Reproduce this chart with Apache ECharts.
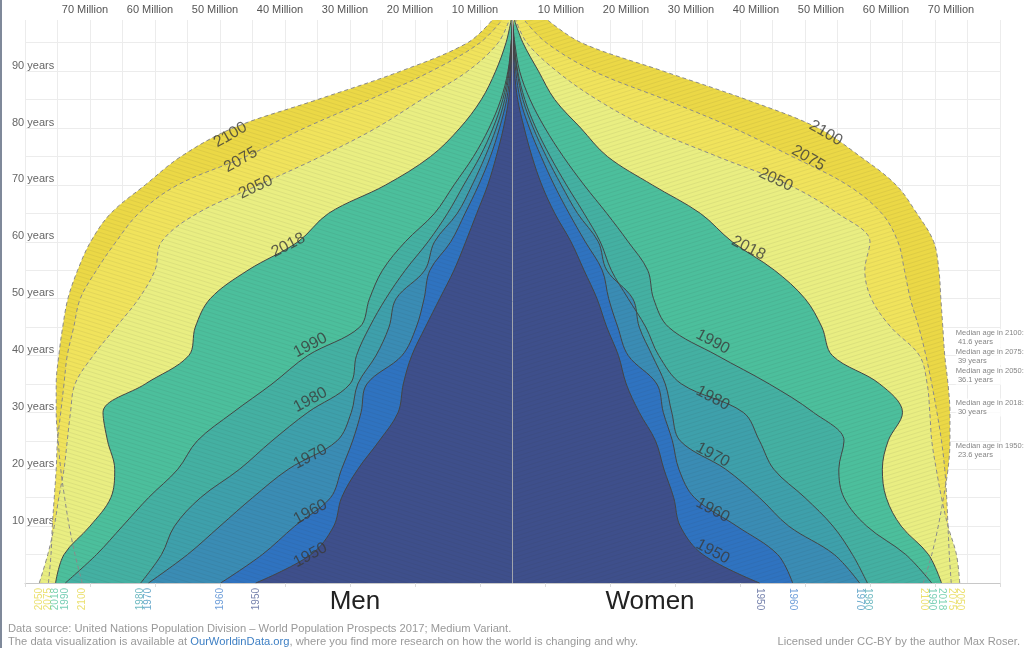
<!DOCTYPE html>
<html>
<head>
<meta charset="utf-8">
<script src="https://cdn.jsdelivr.net/npm/echarts@6/dist/echarts.min.js"></script>
<style>
html, body { margin: 0; padding: 0; background: #fff; }
#chart { width: 1024px; height: 648px; }
</style>
</head>
<body>
<div id="chart"></div>
<script>
// ages (single-year age groups)
var ages = [0, 5, 10, 15, 20, 25, 30, 35, 40, 45, 50, 55, 60, 65, 70, 75, 80, 85, 90, 95, 99];

// population per single year of age, in millions
var men1950 = [39.5, 31, 27.5, 26.3, 23.8, 20.5, 17.6, 16.8, 15.5, 13.4, 11.2, 9, 7.2, 5.5, 3.8, 2.5, 1.4, 0.6, 0.25, 0.1, 0];
var women1950 = [38, 29.3, 25.8, 24.8, 23.3, 22, 19.5, 17.5, 16.3, 14.5, 13, 11, 9, 6.5, 4.5, 3, 1.8, 0.8, 0.3, 0.1, 0];
var men1960 = [44.9, 38.5, 33.5, 28, 26.3, 24.6, 23.3, 22.4, 17, 14.8, 13.6, 12.7, 9.5, 7.3, 5.2, 3.4, 2, 0.9, 0.35, 0.1, 0];
var women1960 = [43.1, 40.8, 34.5, 28, 25.6, 24.6, 23.2, 22.2, 17.8, 16.2, 14.8, 13.8, 11.2, 8.7, 6.4, 4.4, 2.6, 1.2, 0.5, 0.15, 0];
var men1970 = [56, 50, 45, 40, 34.5, 27, 24.8, 23.8, 21, 19, 17.9, 13.5, 12, 8.5, 6.2, 4.2, 2.5, 1.2, 0.5, 0.15, 0];
var women1970 = [53.4, 49.5, 42.5, 38, 32.8, 25.8, 24.5, 23.5, 21.5, 19.5, 18.5, 14.5, 13.2, 10, 7.5, 5.2, 3.2, 1.6, 0.7, 0.2, 0];
var men1980 = [57.2, 54, 52, 48, 42, 37, 31.5, 25, 24, 22, 19.5, 16.5, 13, 10, 7.5, 5, 3, 1.5, 0.6, 0.2, 0];
var women1980 = [54.6, 52.3, 49.3, 45, 40.2, 38, 35.5, 26, 22.5, 20.5, 17.8, 15.2, 13.5, 11, 8.3, 5.8, 3.6, 1.9, 0.8, 0.25, 0];
var men1990 = [68.8, 64, 60, 56, 51.5, 48.5, 43, 37, 31.5, 23.5, 22, 20, 16.5, 12, 9, 6, 3.6, 1.8, 0.7, 0.2, 0];
var women1990 = [64.5, 60.5, 54.5, 51, 50.2, 51, 46.3, 39.5, 31.5, 24, 21.7, 20.8, 17.8, 14.5, 11, 7.8, 5, 2.7, 1.1, 0.35, 0];
var men2018 = [70.3, 69, 65, 61.8, 61.2, 62.3, 63, 56.5, 49.8, 48.8, 46.5, 40.7, 33, 28.3, 19.5, 12.6, 8.1, 4.8, 2.6, 1, 0.2];
var women2018 = [66, 64, 59.8, 57.5, 56.9, 57.8, 60, 56.5, 49.2, 47.6, 45, 40.3, 33.8, 28.9, 21.5, 14.6, 10.5, 6.5, 4, 1.6, 0.3];
var men2050 = [72.8, 71.5, 70.5, 69.8, 69, 68.5, 68, 67.3, 64.5, 61, 57.5, 55, 54, 48.5, 39, 29.5, 21, 14, 6.9, 2.2, 0.5];
var women2050 = [68.8, 68.3, 67, 66, 65.2, 64.5, 64.2, 63.8, 62.6, 58.2, 55.2, 54.2, 55, 50, 42.5, 31.5, 21, 13, 6.8, 2.2, 0.5];
var men2075 = [71.4, 71, 70.8, 70.5, 70.2, 70, 69.5, 69, 68.5, 67.5, 66.5, 64, 61, 57.5, 51.5, 41, 32, 22, 12.5, 5, 1.6];
var women2075 = [67.5, 67.2, 67, 66.8, 66.5, 66, 65.3, 64.5, 63.6, 62.5, 61.2, 60.3, 59.3, 56.8, 51.5, 43, 34, 23.5, 12.5, 5.2, 1.8];
var men2100 = [66.2, 67.3, 68.2, 68.9, 69.5, 69.9, 70.2, 70.2, 69.8, 69.2, 68.4, 66.9, 64.9, 61.8, 56.5, 51, 43, 30, 17.2, 6.9, 3.1];
var women2100 = [63.2, 64.5, 65.5, 66.3, 67, 67.3, 67.3, 67, 66.5, 66.2, 65.9, 65.6, 64.8, 62.2, 59, 53.5, 47, 36, 23.2, 10.6, 5.4];

// outer to inner, that is the drawing order
var years = ['2100', '2075', '2050', '2018', '1990', '1980', '1970', '1960', '1950'];
var projected = ['2050', '2075', '2100'];

var medianYears = ['2100', '2075', '2050', '2018', '1950'];
var medianAges = [41.6, 39, 36.1, 30, 23.6];

var topTickLabels = ['10 Million', '20 Million', '30 Million', '40 Million', '50 Million', '60 Million', '70 Million'];

var menByYear = {
	'1950' : men1950, '1960' : men1960, '1970' : men1970, '1980' : men1980, '1990' : men1990,
	'2018' : men2018, '2050' : men2050, '2075' : men2075, '2100' : men2100
};
var womenByYear = {
	'1950' : women1950, '1960' : women1960, '1970' : women1970, '1980' : women1980, '1990' : women1990,
	'2018' : women2018, '2050' : women2050, '2075' : women2075, '2100' : women2100
};

var fills = {
	'1950' : '#3e4f8b', '1960' : '#2f73c0', '1970' : '#3a8cb4', '1980' : '#3ea0ab', '1990' : '#44b0a2',
	'2018' : '#4cbf9c', '2050' : '#e9ee82', '2075' : '#f0e35c', '2100' : '#ebd846'
};
var tagColors = {
	'1950' : '#56659a', '1960' : '#4a86d0', '1970' : '#4595bf', '1980' : '#4aa8b2', '1990' : '#55c2a2',
	'2018' : '#5cc8a0', '2050' : '#e6d84a', '2075' : '#e6d84a', '2100' : '#e6d84a'
};

// where the year names sit on the curves (annotation placement, data units)
var curveTagMen = [[-43.4, 78.8], [-41.8, 74.4], [-39.5, 69.6], [-34.5, 59.4], [-31.1, 41.8], [-31.1, 32.2], [-31.1, 22.2], [-31.1, 12.5], [-31.1, 4.9]];
var curveTagWomen = [[48.2, 79.1], [45.5, 74.7], [40.5, 70.9], [36.3, 58.9], [30.8, 42.4], [30.8, 32.5], [30.8, 22.5], [30.8, 12.8], [30.8, 5.5]];
var curveTagAngle = [30, 30, 25, 27, 28, 28, 28, 28, 28];
// vertical nudge of the median notes so they do not collide
var medianNudge = [-8.5, -5, -2, -5, 2];

var font = 'Helvetica, "Liberation Sans", Arial, sans-serif';

var ageCats = [];
for (var a = 0; a <= 99; a++) {
	ageCats.push(String(a));
}

var toPoints = function(vals, sign) {
	return vals.map(function(v, i) {
		return [ sign * v, ages[i] ];
	});
};

// fine hatching like the overlapping year outlines of the original
var hatch = function(sign) {
	return {
		symbol : 'rect',
		symbolSize : 1,
		color : 'rgba(40, 40, 40, 0.07)',
		dashArrayX : [ [ 1, 0 ] ],
		dashArrayY : [ 1, 3 ],
		rotation : sign < 0 ? 0.3 : -0.3
	};
};

var series = [];

// filled bands
years.forEach(function(y) {
	[ -1, 1 ].forEach(function(sign) {
		series.push({
			type : 'line',
			name : y,
			data : toPoints(sign < 0 ? menByYear[y] : womenByYear[y], sign),
			smooth : 0.35,
			symbol : 'none',
			silent : true,
			animation : false,
			itemStyle : { color : fills[y], decal : hatch(sign) },
			lineStyle : { width : 0 },
			areaStyle : { color : fills[y], opacity : 1 },
			z : 2
		});
	});
});

// outlines on top
years.forEach(function(y) {
	var isFuture = projected.indexOf(y) >= 0;
	[ -1, 1 ].forEach(function(sign) {
		series.push({
			type : 'line',
			name : y + ' line',
			data : toPoints(sign < 0 ? menByYear[y] : womenByYear[y], sign),
			smooth : 0.35,
			symbol : 'none',
			silent : true,
			animation : false,
			lineStyle : {
				color : isFuture ? '#8a8a8a' : '#454545',
				width : 1,
				type : isFuture ? [ 4, 3 ] : 'solid'
			},
			z : 3
		});
	});
});

// centre line
series[series.length - 1].markLine = {
	silent : true,
	symbol : 'none',
	animation : false,
	label : { show : false },
	lineStyle : { color : '#a0a4ac', width : 1, type : 'solid' },
	data : [ { xAxis : 0 } ]
};

// year names along the curves
var curveTags = [];
years.forEach(function(y, k) {
	curveTags.push({ value : curveTagMen[k], name : y, label : { rotate : curveTagAngle[k] } });
	curveTags.push({ value : curveTagWomen[k], name : y, label : { rotate : -curveTagAngle[k] } });
});
series.push({
	type : 'scatter',
	xAxisIndex : 0,
	yAxisIndex : 1,
	symbolSize : 0,
	silent : true,
	animation : false,
	z : 5,
	label : {
		show : true,
		position : 'inside',
		formatter : '{b}',
		fontFamily : font,
		fontSize : 16,
		fontWeight : 300,
		color : '#3a3a3a'
	},
	data : curveTags
});

// year tags under the axis at age 0
var baseTags = [];
years.forEach(function(y) {
	baseTags.push({
		value : [ -menByYear[y][0], 0 ],
		name : y,
		label : { rotate : 90, align : 'right', offset : [ -5, 0 ], color : tagColors[y] }
	});
	baseTags.push({
		value : [ womenByYear[y][0], 0 ],
		name : y,
		label : { rotate : -90, align : 'left', offset : [ 5, 0 ], color : tagColors[y] }
	});
});
series.push({
	type : 'scatter',
	xAxisIndex : 0,
	yAxisIndex : 1,
	symbolSize : 0,
	silent : true,
	animation : false,
	clip : false,
	z : 5,
	label : {
		show : true,
		position : 'inside',
		verticalAlign : 'middle',
		formatter : '{b}',
		fontFamily : font,
		fontSize : 10
	},
	data : baseTags
});

// median ages on the right
series.push({
	type : 'scatter',
	xAxisIndex : 0,
	yAxisIndex : 1,
	symbolSize : 0,
	silent : true,
	animation : false,
	clip : false,
	z : 5,
	label : {
		show : true,
		position : 'inside',
		align : 'left',
		verticalAlign : 'middle',
		fontFamily : font,
		fontSize : 7.5,
		lineHeight : 9,
		color : '#666',
		backgroundColor : '#fff',
		formatter : function(p) {
			return 'Median age in ' + p.name + ':\n ' + p.value[1] + ' years';
		}
	},
	data : medianYears.map(function(y, i) {
		return { name : y, value : [ 68.2, medianAges[i] ], label : { offset : [ 0, medianNudge[i] ] } };
	})
});

var tickName = function(v) {
	var idx = (Math.abs(v) + 5) / 10 - 1;
	return topTickLabels[idx] || '';
};

var chart = echarts.init(document.getElementById('chart'));
chart.setOption({
	animation : false,
	backgroundColor : '#fff',
	grid : { left : 25, right : 24, top : 20, bottom : 65 },
	xAxis : [ {
		type : 'value', min : -75, max : 75, interval : 5, position : 'top',
		axisLine : { show : false }, axisTick : { show : false }, axisLabel : { show : false },
		splitLine : { show : true, lineStyle : { color : '#ececec', width : 1 } }
	}, {
		type : 'value', min : -75, max : 75, interval : 10, position : 'top',
		axisLine : { show : false }, axisTick : { show : false }, splitLine : { show : false },
		axisLabel : {
			show : true, margin : 5, color : '#555', fontSize : 11, fontFamily : font,
			padding : [ 0, 10, 0, 0 ],
			formatter : function(v) { return v < 0 ? tickName(v) : ''; }
		}
	}, {
		type : 'value', min : -75, max : 75, interval : 10, position : 'top',
		axisLine : { show : false }, axisTick : { show : false }, splitLine : { show : false },
		axisLabel : {
			show : true, margin : 5, color : '#555', fontSize : 11, fontFamily : font,
			padding : [ 0, 0, 0, 32 ],
			formatter : function(v) { return v > 0 ? tickName(v) : ''; }
		}
	}, {
		type : 'value', min : -75, max : 75, interval : 10, position : 'bottom',
		axisLine : { show : true, lineStyle : { color : '#c8c8c8', width : 1 } },
		axisTick : { show : true, length : 4, lineStyle : { color : '#dcdcdc' } },
		axisLabel : { show : false }, splitLine : { show : false }
	} ],
	yAxis : [ {
		type : 'category',
		data : ageCats,
		boundaryGap : false,
		axisLine : { show : false },
		axisTick : { show : false },
		splitLine : {
			show : true,
			interval : function(i) { return i % 5 === 0; },
			lineStyle : { color : '#ececec', width : 1 }
		},
		axisLabel : {
			show : true,
			align : 'left',
			verticalAlign : 'bottom',
			margin : 13,
			color : '#666',
			fontSize : 11,
			fontFamily : font,
			interval : function(i) { return i % 10 === 0 && i > 0; },
			formatter : function(v) { return v + ' years'; }
		}
	}, {
		type : 'value', min : 0, max : 99, show : false
	} ],
	graphic : [ {
		type : 'rect', left : 0, top : 0, z : 10,
		shape : { width : 2, height : 648 },
		style : { fill : '#7f899a' }
	}, {
		type : 'text', x : 355, y : 602, z : 10,
		style : { text : 'Men', fill : '#222', font : '300 26px ' + font, textAlign : 'center', textVerticalAlign : 'middle' }
	}, {
		type : 'text', x : 650, y : 602, z : 10,
		style : { text : 'Women', fill : '#222', font : '300 26px ' + font, textAlign : 'center', textVerticalAlign : 'middle' }
	}, {
		type : 'text', x : 8, y : 629, z : 10,
		style : {
			text : 'Data source: United Nations Population Division \u2013 World Population Prospects 2017; Medium Variant.',
			fill : '#999', font : '11.2px ' + font, textVerticalAlign : 'middle'
		}
	}, {
		type : 'text', x : 8, y : 642, z : 10,
		style : {
			text : 'The data visualization is available at {a|OurWorldinData.org}, where you find more research on how the world is changing and why.',
			fill : '#999', font : '11.2px ' + font, textVerticalAlign : 'middle',
			rich : { a : { fill : '#3d7fc4', font : '11.2px ' + font } }
		}
	}, {
		type : 'text', x : 1020, y : 642, z : 10,
		style : {
			text : 'Licensed under CC-BY by the author Max Roser.',
			fill : '#999', font : '11.2px ' + font, textAlign : 'right', textVerticalAlign : 'middle'
		}
	} ],
	series : series
});
</script>
</body>
</html>
